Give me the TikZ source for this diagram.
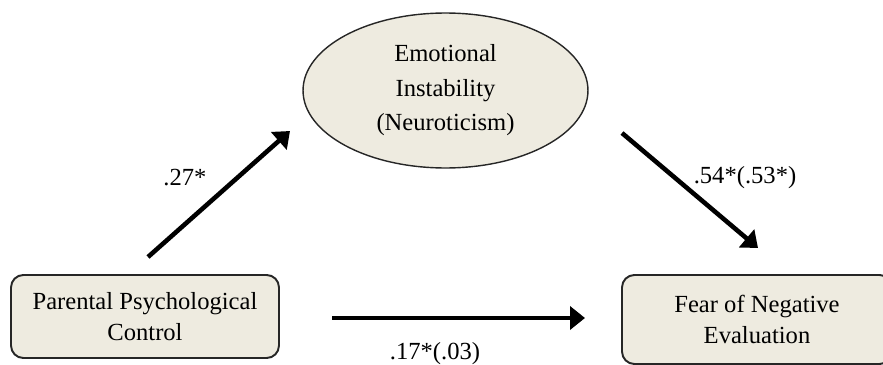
\documentclass[tikz,border=0pt]{standalone}
\usepackage{fontspec}
\setmainfont{Liberation Serif}
\usetikzlibrary{arrows.meta,shapes.geometric}
\definecolor{paper}{HTML}{EEEBE0}
\definecolor{edge}{HTML}{262626}
\tikzset{var/.style={draw=edge,fill=paper,line width=1.1pt,rounded corners=7pt,inner sep=0pt,
  align=center,font=\fontsize{14}{17.6}\selectfont},
latent/.style={ellipse,draw=edge,fill=paper,line width=.8pt,inner sep=0pt,
  align=center,font=\fontsize{14}{19.6}\selectfont},
path/.style={-{Triangle[length=3mm,width=4.6mm]},line width=2.6pt},
coef/.style={font=\fontsize{14}{17}\selectfont}}

\begin{document}
\begin{tikzpicture}[x=.02cm,y=-.02cm]
\clip (0,0) rectangle (883,365);
\node[var,minimum width=5.36cm,minimum height=1.66cm] (ppc) at (145,316.5) {Parental Psychological\\Control};
\node[var,minimum width=5.4cm,minimum height=1.78cm] (fne) at (757,319.5) {Fear of Negative\\Evaluation};
\node[latent,minimum width=5.7cm,minimum height=3.1cm] (neu) at (445.5,90.5) {Emotional\\Instability\\(Neuroticism)};
\coordinate (a1s) at (148,257);
\coordinate (a1e) at (290,131);
\coordinate (a2s) at (622,133);
\coordinate (a2e) at (758,248);
\coordinate (a3s) at (332,318);
\coordinate (a3e) at (585,318);
\draw[path] (a1s) -- (a1e);
\draw[path] (a2s) -- (a2e);
\draw[path] (a3s) -- (a3e);
\node[coef] (c1) at (185,178) {.27*};
\node[coef] (c2) at (745,178) {.54*(.53*)};
\node[coef] (c3) at (435,354) {.17*(.03)};
\end{tikzpicture}
\end{document}
